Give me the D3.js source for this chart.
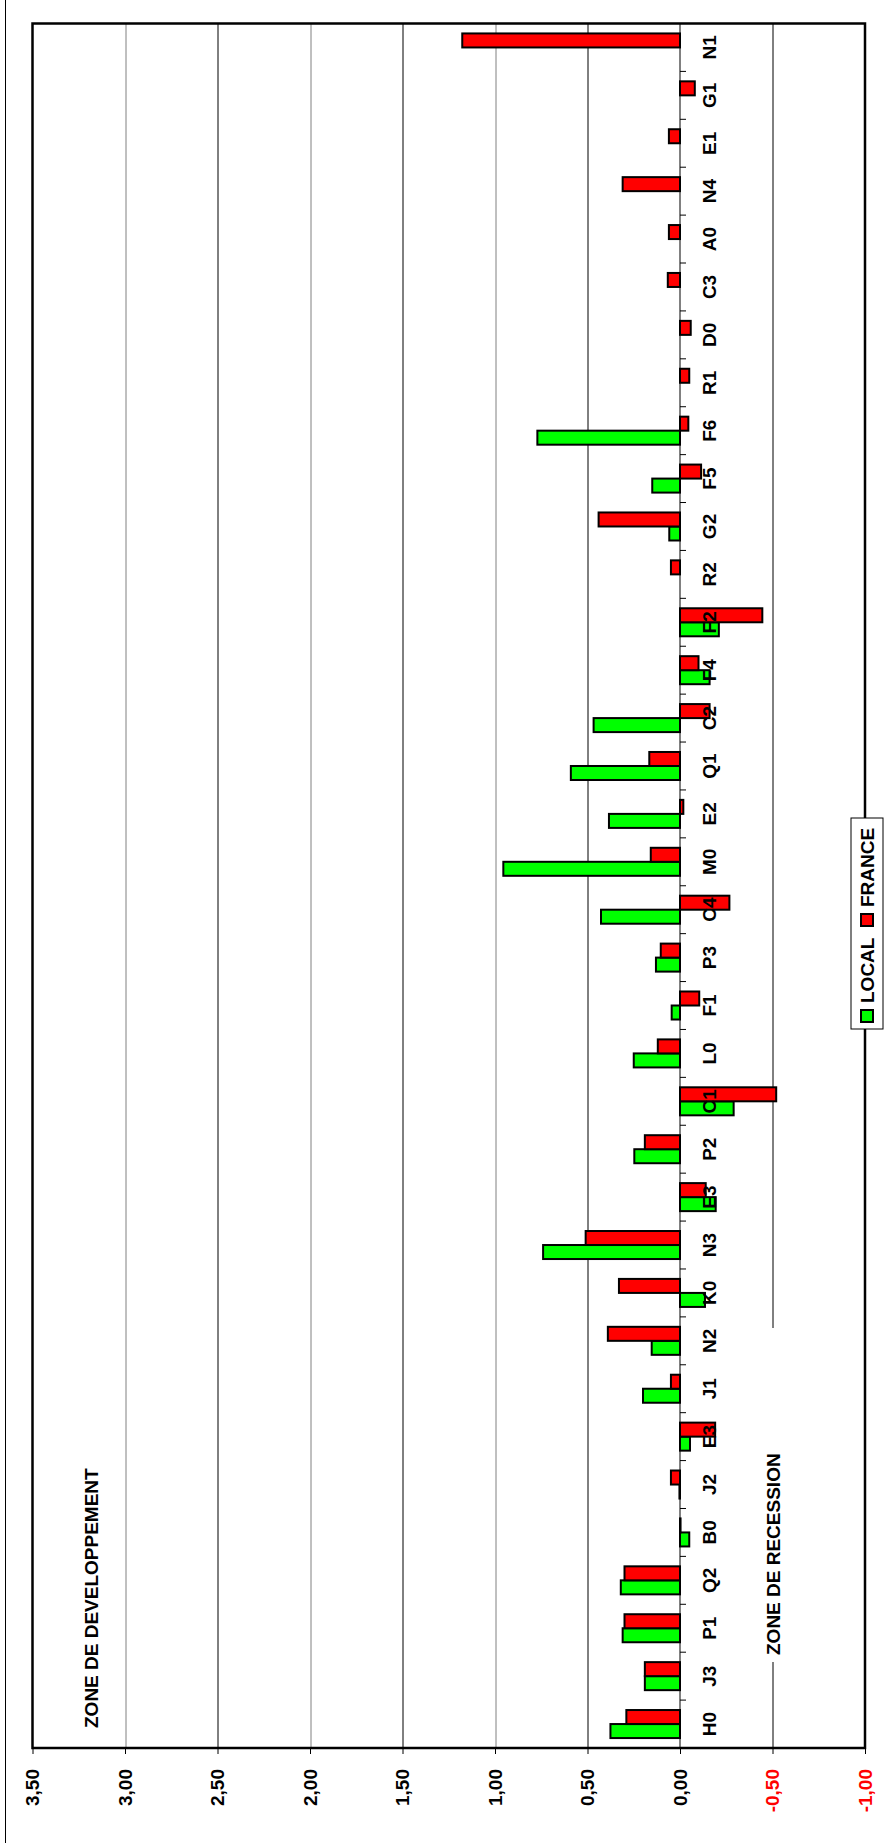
<!DOCTYPE html>
<html>
<head>
<meta charset="utf-8">
<script src="https://cdn.jsdelivr.net/npm/d3@7"></script>
<style>
  html, body { margin: 0; padding: 0; background: #fff; }
  svg { display: block; }
  text { font-family: "Liberation Sans", Arial, sans-serif; font-weight: bold; }
</style>
</head>
<body>
<svg id="chart" width="887" height="1843"></svg>
<script>
// categories, from the bottom of the page (first) to the top (last)
const categories = ["H0","J3","P1","Q2","B0","J2","E3","J1","N2","K0","N3","E3","P2","C1","L0","F1","P3","C4","M0","E2","Q1","C2","F4","F2","R2","G2","F5","F6","R1","D0","C3","A0","N4","E1","G1","N1"];
const localValues = [0.376,0.19,0.31,0.32,-0.05,0.003,-0.054,0.20,0.153,-0.135,0.74,-0.193,0.247,-0.29,0.25,0.045,0.13,0.427,0.955,0.384,0.59,0.467,-0.16,-0.21,null,0.058,0.15,0.771,null,null,null,null,null,null,null,null];
const franceValues = [0.29,0.19,0.30,0.30,-0.003,0.049,-0.19,0.049,0.39,0.33,0.51,-0.139,0.19,-0.52,0.12,-0.104,0.104,-0.267,0.158,-0.018,0.166,-0.16,-0.10,-0.445,0.049,0.44,-0.114,-0.045,-0.05,-0.058,0.066,0.06,0.31,0.06,-0.08,1.177];
const valueTicks = [3.5,3,2.5,2,1.5,1,0.5,0,-0.5,-1];
const seriesNames = ["LOCAL","FRANCE"];
const seriesColors = ["#00ff00","#ff0000"];

const plotLeft = 32.5, plotBottom = 1748, plotRight = 865, plotTop = 23.5;
// the chart is drawn as a column chart, then turned a quarter turn
const W = plotBottom - plotTop;   // length of the category axis
const H = plotRight - plotLeft;   // length of the value axis

const svg = d3.select('#chart');
svg.append('rect').attr('width', 887).attr('height', 1843).attr('fill', '#fff');
svg.append('line').attr('x1', 5.5).attr('x2', 5.5).attr('y1', 0).attr('y2', 1843)
  .attr('stroke', '#000').attr('stroke-width', 1);

const g = svg.append('g').attr('transform', `translate(${plotLeft},${plotBottom}) rotate(-90)`);

const x0 = d3.scaleBand().domain(d3.range(categories.length)).range([0, W])
  .paddingInner(0.415).paddingOuter(0.2075);
const x1 = d3.scaleBand().domain([0, 1]).range([0, x0.bandwidth()]);
const y = d3.scaleLinear().domain([3.5, -1]).range([0, H]);

// grid
g.append('g').selectAll('line')
  .data(valueTicks.filter(v => v !== 3.5 && v !== -1 && v !== 0))
  .join('line')
  .attr('x1', 0).attr('x2', W)
  .attr('y1', d => Math.round(y(d)) + 0.5).attr('y2', d => Math.round(y(d)) + 0.5)
  .attr('stroke', d => Number.isInteger(d) ? '#808080' : '#000')
  .attr('stroke-width', 1);

// zone labels
g.append('text').attr('x', 20).attr('y', 65.5).attr('font-size', 19).text('ZONE DE DEVELOPPEMENT');
g.append('rect').attr('x', 86).attr('y', y(-0.5) - 12).attr('width', 334).attr('height', 24).attr('fill', '#fff');
g.append('text').attr('x', 93).attr('y', y(-0.5) + 7).attr('font-size', 19).text('ZONE DE RECESSION');

// zero line
g.append('line').attr('x1', 0).attr('x2', W).attr('y1', y(0)).attr('y2', y(0))
  .attr('stroke', '#808080').attr('stroke-width', 2);

// bars
const rows = [];
categories.forEach((c, i) => {
  [localValues[i], franceValues[i]].forEach((v, s) => {
    if (v !== null) rows.push({i, s, v});
  });
});
g.append('g').selectAll('rect').data(rows).join('rect')
  .attr('x', d => x0(d.i) + x1(d.s))
  .attr('width', x1.bandwidth())
  .attr('y', d => Math.min(y(d.v), y(0)))
  .attr('height', d => Math.abs(y(d.v) - y(0)))
  .attr('fill', d => seriesColors[d.s])
  .attr('stroke', '#000').attr('stroke-width', 2);

// category tick marks between the groups
g.append('g').selectAll('line').data(d3.range(1, categories.length)).join('line')
  .attr('x1', d => x0.step() * d).attr('x2', d => x0.step() * d)
  .attr('y1', y(0)).attr('y2', y(0) + 6)
  .attr('stroke', '#000').attr('stroke-width', 1);

// category labels
const catAxis = g.append('g').attr('transform', `translate(0,${y(0)})`)
  .call(d3.axisBottom(x0).tickSize(0).tickPadding(23).tickFormat(i => categories[i]));
catAxis.select('.domain').remove();
catAxis.selectAll('text').attr('font-size', 19).attr('fill', '#000')
  .style('font-family', '"Liberation Sans", Arial, sans-serif').style('font-weight', 'bold');

// value axis
const valAxis = g.append('g')
  .call(d3.axisLeft(y).tickValues(valueTicks).tickSize(6).tickPadding(15)
    .tickFormat(v => v.toFixed(2).replace('.', ',')));
valAxis.select('.domain').remove();
valAxis.selectAll('line').attr('stroke', '#000');
valAxis.selectAll('text').attr('font-size', 19)
  .attr('fill', d => d < 0 ? '#ff0000' : '#000')
  .style('font-family', '"Liberation Sans", Arial, sans-serif').style('font-weight', 'bold');

// plot border
g.append('rect').attr('x', 0).attr('y', 0).attr('width', W).attr('height', H)
  .attr('fill', 'none').attr('stroke', '#000').attr('stroke-width', 2.5);

// legend
const lg = g.append('g').attr('transform', `translate(719,${H + 2})`);
lg.append('rect').attr('x', 0).attr('y', -16).attr('width', 211).attr('height', 32)
  .attr('fill', '#fff').attr('stroke', '#000').attr('stroke-width', 1);
const legendX = [[7, 26], [103, 122]];
seriesNames.forEach((name, s) => {
  lg.append('rect').attr('x', legendX[s][0]).attr('y', -6).attr('width', 12).attr('height', 12)
    .attr('fill', seriesColors[s]).attr('stroke', '#000').attr('stroke-width', 2);
  lg.append('text').attr('x', legendX[s][1]).attr('y', 7).attr('font-size', 19).text(name);
});
</script>
</body>
</html>
